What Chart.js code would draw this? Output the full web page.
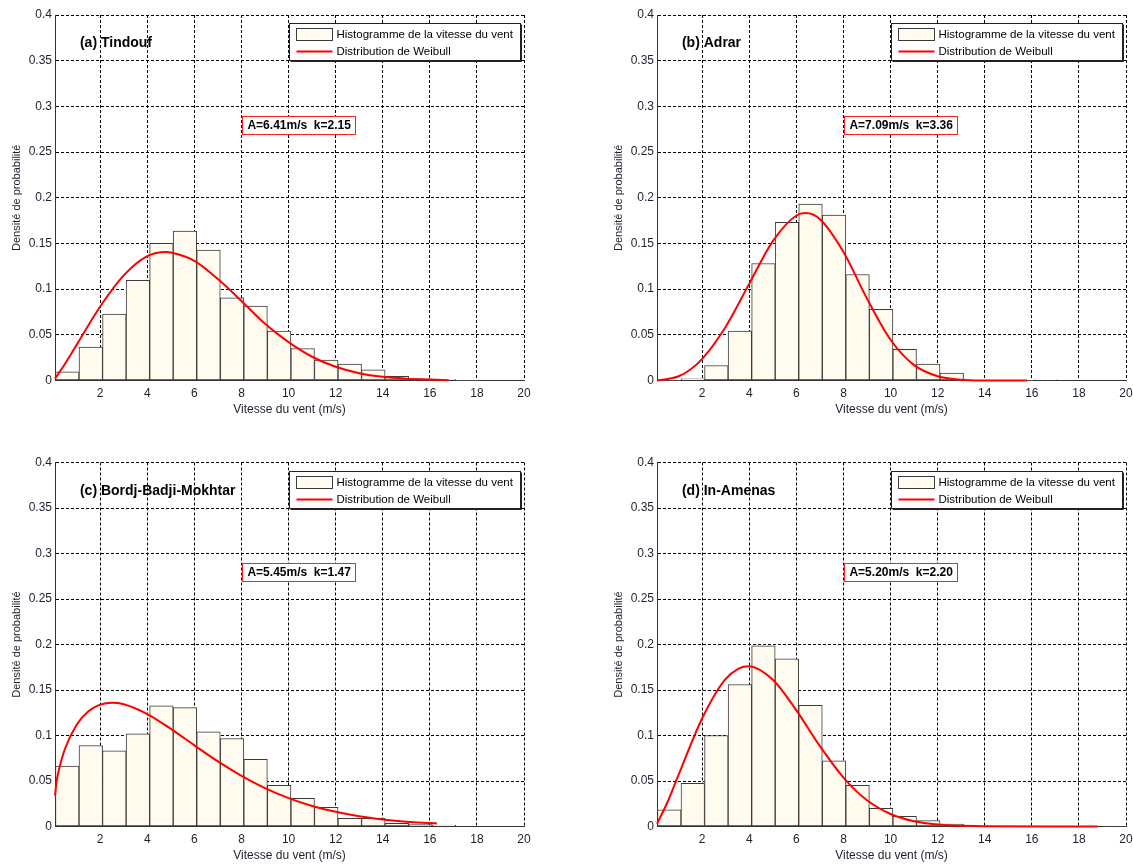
<!DOCTYPE html>
<html>
<head>
<meta charset="utf-8">
<title>Histogrammes et distributions de Weibull</title>
<script src="https://cdn.jsdelivr.net/npm/chart.js@4.4.1/dist/chart.umd.min.js"></script>
<style>
    body { margin: 0; background: #fff; overflow: hidden; }
    canvas { position: absolute; }
</style>
</head>
<body>
<canvas id="panelA" width="566" height="432" style="left:0;top:0"></canvas>
<canvas id="panelB" width="580" height="432" style="left:566px;top:0"></canvas>
<canvas id="panelC" width="566" height="432" style="left:0;top:432px"></canvas>
<canvas id="panelD" width="580" height="432" style="left:566px;top:432px"></canvas>
<script>
// Histogram bins (1 m/s wide), centres in m/s
const binCenters = [0.6, 1.6, 2.6, 3.6, 4.6, 5.6, 6.6, 7.6, 8.6, 9.6,
    10.6, 11.6, 12.6, 13.6, 14.6, 15.6, 16.6, 17.6, 18.6, 19.6];
const xTicks = [2, 4, 6, 8, 10, 12, 14, 16, 18, 20];

// Probability density of each bin
const tindoufHist = [0.0095, 0.0365, 0.0726, 0.1095, 0.150, 0.1635, 0.1427, 0.0905, 0.0814, 0.054,
    0.035, 0.0223, 0.0179, 0.0117, 0.0047, 0.0018, 0.001, 0.0004, null, null];
const adrarHist = [0.0004, 0.0018, 0.0164, 0.054, 0.128, 0.173, 0.193, 0.181, 0.116, 0.078,
    0.034, 0.018, 0.008, 0.0003, 0.0002, 0.0002, 0.0007, null, null, null];
const bbmHist = [0.0664, 0.089, 0.0832, 0.1018, 0.1325, 0.1307, 0.104, 0.0967, 0.0737, 0.0453,
    0.031, 0.0212, 0.0091, 0.0091, 0.0036, 0.0022, 0.0015, null, null, null];
const inAmenasHist = [0.0182, 0.0474, 0.100, 0.156, 0.1985, 0.1843, 0.1332, 0.0723, 0.0453, 0.020,
    0.0113, 0.0066, 0.0026, 0.0004, 0.0002, 0.0002, 0.0002, 0.0002, null, 0.0005];

// Weibull curves, points
const tindoufCurveX = [0.08, 0.5, 1, 2, 3, 4, 4.8, 5, 6, 7, 8, 9, 10, 11, 12, 13, 14, 15, 16, 16.8];
const tindoufCurveY = [0.002, 0.018, 0.039, 0.081, 0.115, 0.136, 0.1405, 0.140, 0.131, 0.111,
    0.087, 0.062, 0.042, 0.026, 0.015, 0.008, 0.004, 0.002, 0.001, 0.0004];
const adrarCurveX = [0.1, 1, 1.5, 2, 3, 4, 5, 6, 6.4, 7, 8, 9, 10, 11, 12, 13, 14, 15.8];
const adrarCurveY = [0.0, 0.0046, 0.012, 0.0236, 0.0589, 0.106, 0.1525, 0.1806, 0.1832, 0.1764,
    0.1406, 0.0896, 0.0446, 0.0168, 0.0047, 0.0009, 0.0001, 0.0];
const bbmCurveX = [0.08, 0.15, 0.25, 0.5, 1, 1.5, 2, 2.5, 3, 4, 5, 6, 7, 8, 9, 10, 11, 12, 13, 14, 15, 16, 16.3];
const bbmCurveY = [0.034, 0.0498, 0.0627, 0.0852, 0.1119, 0.1266, 0.1339, 0.136, 0.1344, 0.1236,
    0.1073, 0.0892, 0.0715, 0.0557, 0.0422, 0.0312, 0.0226, 0.0161, 0.0112, 0.0077, 0.0052, 0.0038, 0.0034];
const inAmenasCurveX = [0.08, 0.5, 1, 2, 3, 3.95, 5, 6, 7, 8, 9, 10, 11, 12, 13, 14, 18.8];
const inAmenasCurveY = [0.003, 0.0253, 0.057, 0.119, 0.1623, 0.1762, 0.1613, 0.1276, 0.0883, 0.0538,
    0.0288, 0.0137, 0.0057, 0.0021, 0.0007, 0.0002, 0.0];

const stationTitles = ['(a) Tindouf', '(b) Adrar', '(c) Bordj-Badji-Mokhtar', '(d) In-Amenas'];
const weibullLabels = ['A=6.41m/s  k=2.15', 'A=7.09m/s  k=3.36', 'A=5.45m/s  k=1.47', 'A=5.20m/s  k=2.20'];
const legendLabels = ['Histogramme de la vitesse du vent', 'Distribution de Weibull'];

const FONT = '"Liberation Sans", Arial, sans-serif';
const BAR_FILL = '#fffbef';
const BAR_EDGE = '#3a3a3a';

// Draws the station name, the A/k box and the legend inside the plot area
const decorPlugin = {
    id: 'decor',
    afterDatasetsDraw(chart, args, opts) {
        const ctx = chart.ctx;
        const xs = chart.scales.x;
        const ys = chart.scales.y;
        const area = chart.chartArea;
        ctx.save();

        // station name
        ctx.font = 'bold 14px ' + FONT;
        ctx.fillStyle = '#000';
        ctx.textAlign = 'left';
        ctx.textBaseline = 'middle';
        ctx.fillText(opts.title, xs.getPixelForValue(1.14), ys.getPixelForValue(0.369));

        // Weibull parameters in a red box
        ctx.font = 'bold 12px ' + FONT;
        const w = ctx.measureText(opts.params).width;
        const cx = xs.getPixelForValue(10.45);
        const cy = ys.getPixelForValue(0.28);
        const bx = Math.round(cx - w / 2 - 5) + 0.5;
        const by = Math.round(cy - 9) + 0.5;
        ctx.fillStyle = '#fff';
        ctx.fillRect(bx, by, Math.round(w + 10), 18);
        ctx.strokeStyle = '#ff2020';
        ctx.lineWidth = 1;
        ctx.strokeRect(bx, by, Math.round(w + 10), 18);
        ctx.fillStyle = '#000';
        ctx.textAlign = 'center';
        ctx.fillText(opts.params, cx, cy + 1);

        // legend box
        const lw = 231, lh = 37;
        const lx = Math.round(area.right - 4 - lw) + 0.5;
        const ly = Math.round(area.top + 8) + 0.5;
        ctx.fillStyle = '#fff';
        ctx.fillRect(lx, ly, lw, lh);
        ctx.strokeStyle = '#222';
        ctx.strokeRect(lx, ly, lw, lh);
        ctx.beginPath();
        ctx.moveTo(lx + 1, ly + lh + 1);
        ctx.lineTo(lx + lw + 1, ly + lh + 1);
        ctx.lineTo(lx + lw + 1, ly + 1);
        ctx.stroke();

        // histogram swatch
        ctx.fillStyle = BAR_FILL;
        ctx.fillRect(lx + 7, ly + 5, 36, 12);
        ctx.strokeStyle = BAR_EDGE;
        ctx.strokeRect(lx + 7, ly + 5, 36, 12);
        // Weibull line swatch
        ctx.strokeStyle = '#ff0000';
        ctx.lineWidth = 2;
        ctx.beginPath();
        ctx.moveTo(lx + 7, ly + 28);
        ctx.lineTo(lx + 43, ly + 28);
        ctx.stroke();

        ctx.font = '11.5px ' + FONT;
        ctx.fillStyle = '#000';
        ctx.textAlign = 'left';
        ctx.fillText(legendLabels[0], lx + 47, ly + 11.5);
        ctx.fillText(legendLabels[1], lx + 47, ly + 28.5);

        ctx.restore();
    }
};

function makePanel(canvasId, hist, curveX, curveY, title, params, pad) {
    const ctx = document.getElementById(canvasId).getContext('2d');

    // pair bins and curve points with their x values
    const barData = binCenters.map((x, i) => ({ x: x, y: hist[i] }));
    const lineData = curveX.map((x, i) => ({ x: x, y: curveY[i] }));

    return new Chart(ctx, {
        type: 'bar',
        data: {
            datasets: [{
                type: 'line',
                data: lineData,
                borderColor: '#ff0000',
                borderWidth: 2,
                pointRadius: 0,
                cubicInterpolationMode: 'monotone',
                clip: false,
                order: 0
            }, {
                type: 'bar',
                data: barData,
                backgroundColor: BAR_FILL,
                borderColor: BAR_EDGE,
                borderWidth: 1,
                borderSkipped: false,
                barPercentage: 1,
                categoryPercentage: 1,
                order: 1
            }]
        },
        options: {
            responsive: false,
            animation: false,
            devicePixelRatio: 1,
            layout: { padding: pad },
            plugins: {
                legend: { display: false },
                tooltip: { enabled: false },
                decor: { title: title, params: params }
            },
            scales: {
                x: {
                    type: 'linear',
                    min: 0.08,
                    max: 20,
                    offset: false,
                    afterBuildTicks: (scale) => {
                        scale.ticks = xTicks.map(v => ({ value: v }));
                    },
                    afterFit: (scale) => { scale.height = 36; },
                    grid: { offset: false, color: '#000', lineWidth: 1, drawTicks: false },
                    border: { display: true, color: '#333', width: 1, dash: [3, 2] },
                    ticks: {
                        padding: 6,
                        maxRotation: 0,
                        color: '#1e1e2e',
                        font: { family: FONT, size: 12 }
                    },
                    title: {
                        display: true,
                        text: 'Vitesse du vent (m/s)',
                        color: '#1e1e2e',
                        padding: { top: 0, bottom: 0 },
                        font: { family: FONT, size: 12 }
                    }
                },
                y: {
                    min: 0,
                    max: 0.4,
                    afterFit: (scale) => { scale.width = 55; },
                    grid: { color: '#000', lineWidth: 1, drawTicks: false },
                    border: { display: true, color: '#333', width: 1, dash: [3, 2] },
                    ticks: {
                        stepSize: 0.05,
                        padding: 3,
                        color: '#1e1e2e',
                        font: { family: FONT, size: 12 },
                        callback: (v) => String(Math.round(v * 100) / 100)
                    },
                    title: {
                        display: true,
                        text: 'Densité de probabilité',
                        color: '#1e1e2e',
                        padding: { top: 10, bottom: 0 },
                        font: { family: FONT, size: 11 }
                    }
                }
            }
        },
        plugins: [decorPlugin]
    });
}

makePanel('panelA', tindoufHist, tindoufCurveX, tindoufCurveY, stationTitles[0], weibullLabels[0],
    { left: 0, right: 42, top: 15, bottom: 15.5 });
makePanel('panelB', adrarHist, adrarCurveX, adrarCurveY, stationTitles[1], weibullLabels[1],
    { left: 36, right: 20, top: 15, bottom: 15.5 });
makePanel('panelC', bbmHist, bbmCurveX, bbmCurveY, stationTitles[2], weibullLabels[2],
    { left: 0, right: 42, top: 30.5, bottom: 1.5 });
makePanel('panelD', inAmenasHist, inAmenasCurveX, inAmenasCurveY, stationTitles[3], weibullLabels[3],
    { left: 36, right: 20, top: 30.5, bottom: 1.5 });
</script>
</body>
</html>
